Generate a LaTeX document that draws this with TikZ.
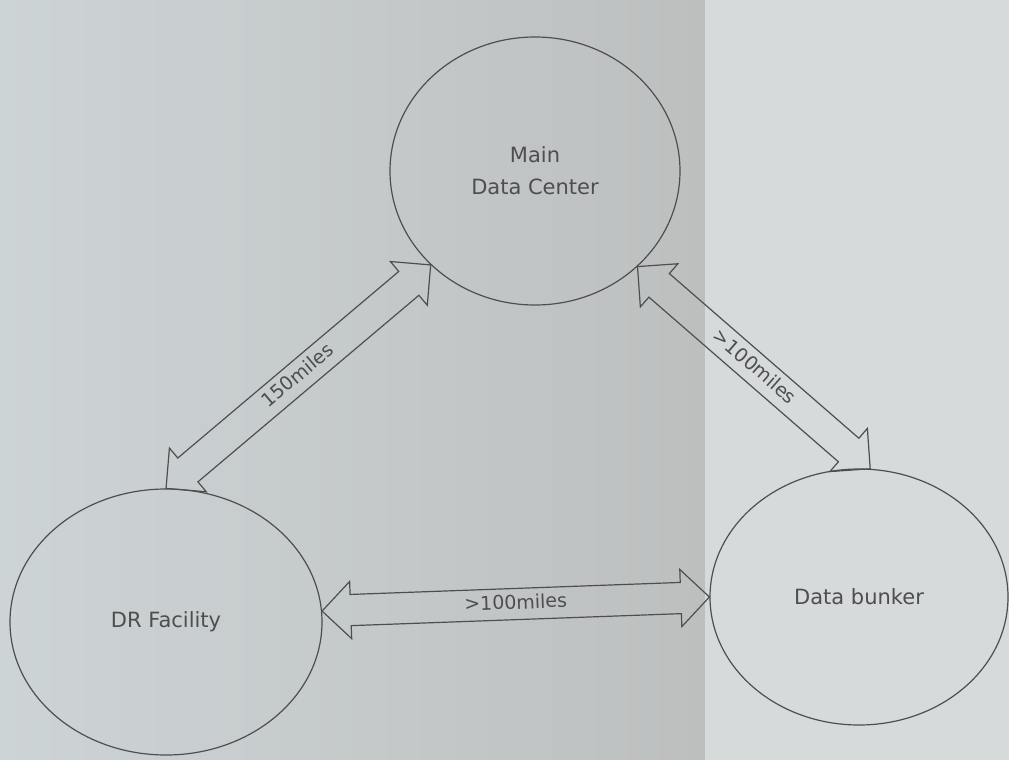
\documentclass[tikz,border=0pt]{standalone}
\usepackage{fontspec}
\setmainfont{DejaVu Sans}
\usetikzlibrary{shapes.geometric,shapes.arrows,calc}
\definecolor{ink}{HTML}{4E4E4E}
\definecolor{bgL}{HTML}{CDD4D6}
\definecolor{bgM}{HTML}{BDBFBF}
\definecolor{bgR}{HTML}{D6DADB}
\begin{document}
\begin{tikzpicture}[x=1pt,y=-1pt,
  site/.style={ellipse,draw=ink,line width=1.2pt,inner sep=0pt,text=ink,align=center,
    font=\fontsize{21}{32}\selectfont},
  link/.style={double arrow,draw=ink,line width=1.2pt,text=ink,
    font=\fontsize{19}{19}\selectfont,inner ysep=6pt,inner xsep=0pt,
    text height=14pt,text depth=4pt,double arrow head extend=13pt,
    double arrow tip angle=90,anchor=center}]
\shade[left color=bgL,right color=bgM] (0,0) rectangle (705,760);
\fill[bgR] (705,0) rectangle (1009,760);
\useasboundingbox (0,0) rectangle (1009,760);

\node[site,minimum width=290pt,minimum height=268pt] (main) at (535,171) {Main\\Data Center};
\node[site,minimum width=312pt,minimum height=266pt] (dr) at (166,622) {DR Facility};
\node[site,minimum width=298pt,minimum height=256pt] (bunker) at (859,597) {Data bunker};

\coordinate (a1s) at (dr.north);
\coordinate (a1e) at (main.222);
\coordinate (a2s) at (main.317);
\coordinate (a2e) at (bunker.85);
\coordinate (a3s) at (dr.4);
\coordinate (a3e) at (bunker.west);

\path let \p1=($(a1e)-(a1s)$), \n1={atan2(\y1,\x1)}, \n2={veclen(\x1,\y1)} in
  node[link,rotate=\n1,minimum height=\n2] (l1) at ($(a1s)!0.5!(a1e)$) {150miles};
\path let \p1=($(a2e)-(a2s)$), \n1={atan2(\y1,\x1)}, \n2={veclen(\x1,\y1)} in
  node[link,rotate=\n1,minimum height=\n2] (l2) at ($(a2s)!0.5!(a2e)$) {>100miles};
\path let \p1=($(a3e)-(a3s)$), \n1={atan2(\y1,\x1)}, \n2={veclen(\x1,\y1)} in
  node[link,rotate=\n1,minimum height=\n2] (l3) at ($(a3s)!0.5!(a3e)$) {>100miles};
\end{tikzpicture}
\end{document}
